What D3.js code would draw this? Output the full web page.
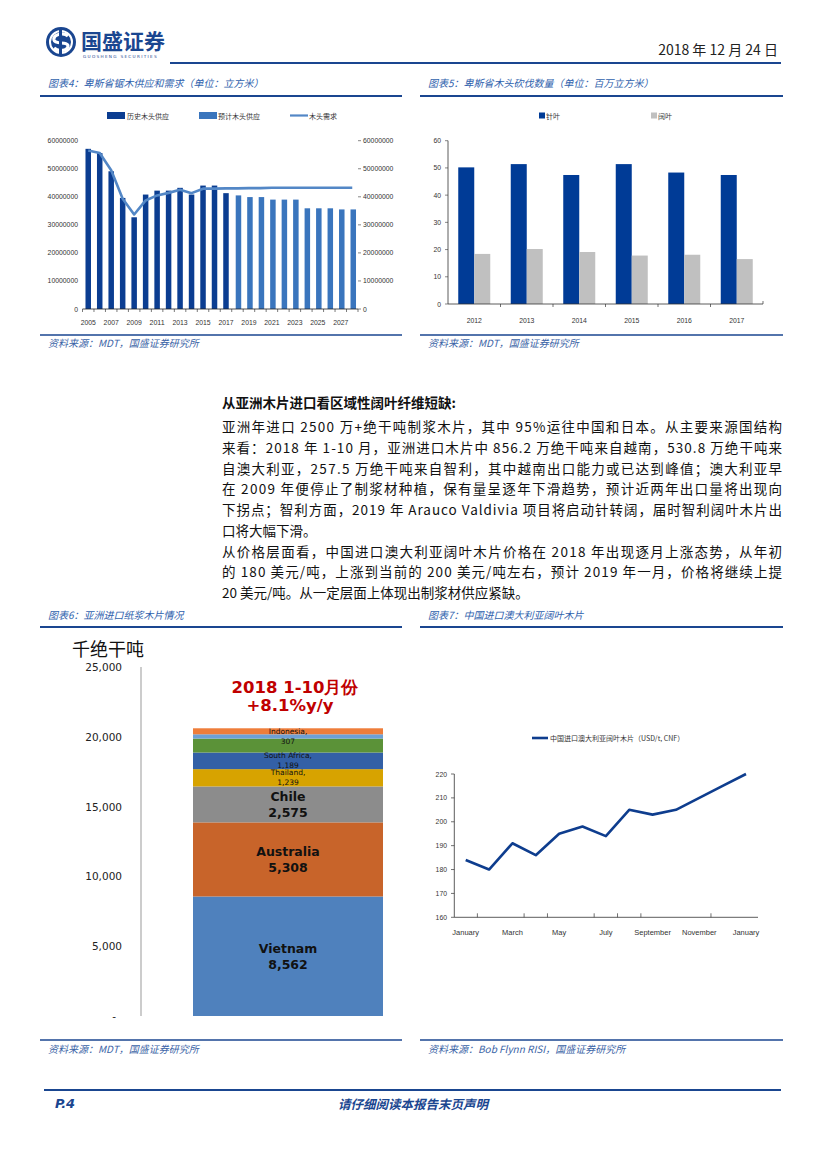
<!DOCTYPE html>
<html>
<head>
<meta charset="utf-8">
<script src="https://cdn.jsdelivr.net/npm/d3@7"></script>
<style>
  html, body { margin: 0; padding: 0; background: #fff; }
  svg { display: block; }
</style>
</head>
<body>
<div id="page"></div>
<script>
// ---- data ----
var supplyYears = d3.range(2005, 2029);
var histSupply = [57100000, 55600000, 49100000, 39600000, 32700000, 40800000, 42200000, 42200000, 43200000, 40800000, 44000000, 44000000, 41300000];
var histYears = d3.range(2005, 2018);
var projSupply = [40500000, 39900000, 39900000, 39000000, 39000000, 39000000, 35900000, 35900000, 35900000, 35500000, 35500000];
var projYears = d3.range(2018, 2029);
var woodDemand = [56500000, 55600000, 49500000, 39300000, 33700000, 38700000, 40500000, 41400000, 42500000, 41300000, 42900000, 42900000,
  43000000, 43000000, 43100000, 43100000, 43200000, 43200000, 43200000, 43200000, 43200000, 43200000, 43200000, 43200000];
var supplyTicks = [0, 10000000, 20000000, 30000000, 40000000, 50000000, 60000000];
var supplyXLabels = [2005, 2007, 2009, 2011, 2013, 2015, 2017, 2019, 2021, 2023, 2025, 2027];

var harvestYears = [2012, 2013, 2014, 2015, 2016, 2017];
var softwood = [50.2, 51.4, 47.4, 51.4, 48.3, 47.4];
var hardwood = [18.4, 20.2, 19.1, 17.8, 18.1, 16.5];
var harvestTicks = [0, 10, 20, 30, 40, 50, 60];

var chipSources = ["Vietnam", "Australia", "Chile", "Thailand", "South Africa", "Others", "Indonesia", "Other2"];
var chipValues = [8562, 5308, 2575, 1239, 1189, 1000, 307, 430];
var chipColors = ["#4f81bd", "#c8642a", "#8c8c8c", "#d7a300", "#3360a6", "#5b9238", "#6ea0d6", "#ee7d3a"];
var chipTicks = [0, 5000, 10000, 15000, 20000, 25000];

var priceMonths = ["January", "February", "March", "April", "May", "June", "July", "August", "September", "October", "November", "December", "January"];
var priceValues = [184, 180, 191, 186, 195, 198, 194, 205, 203, 205, 210, 215, 220];
var priceTicks = [160, 170, 180, 190, 200, 210, 220];
var priceMinorTicks = [0.5, 2.5, 3.5, 5.5, 6.5, 7.5, 10.5];

var bodyLines = [
  "亚洲年进口 2500 万+绝干吨制浆木片，其中 95%运往中国和日本。从主要来源国结构",
  "来看：2018 年 1-10 月，亚洲进口木片中 856.2 万绝干吨来自越南，530.8 万绝干吨来",
  "自澳大利亚，257.5 万绝干吨来自智利，其中越南出口能力或已达到峰值；澳大利亚早",
  "在 2009 年便停止了制浆材种植，保有量呈逐年下滑趋势，预计近两年出口量将出现向",
  "下拐点；智利方面，2019 年 Arauco Valdivia 项目将启动针转阔，届时智利阔叶木片出",
  "口将大幅下滑。",
  "从价格层面看，中国进口澳大利亚阔叶木片价格在 2018 年出现逐月上涨态势，从年初",
  "的 180 美元/吨，上涨到当前的 200 美元/吨左右，预计 2019 年一月，价格将继续上提",
  "20 美元/吨。从一定层面上体现出制浆材供应紧缺。"
];
var bodyJustify = [true, true, true, true, true, false, true, true, false];

// ---- page ----
var W = 827, H = 1169;
var navy = "#1a4690";
var capBlue = "#2f62ad";
var cjk = "'Noto Sans CJK SC', 'DejaVu Sans', sans-serif";
var narrow = "'Liberation Sans Narrow', 'Arial Narrow', 'Liberation Sans', sans-serif";
var verdana = "'DejaVu Sans', Verdana, sans-serif";

var svg = d3.select("#page").append("svg").attr("width", W).attr("height", H);
svg.append("rect").attr("width", W).attr("height", H).attr("fill", "#fff");

// small condensed label helper (the reference uses a narrow face)
function narrowText(g, x, y, txt, anchor, fs) {
  var s = String(txt);
  var el = g.append("text").attr("x", x).attr("y", y).attr("text-anchor", anchor || "start")
    .attr("dominant-baseline", "central").text(s)
    .attr("font-family", narrow).attr("font-size", fs || 8).attr("fill", "#333");
  if (/^\d+$/.test(s)) el.attr("textLength", s.length * 3.8).attr("lengthAdjust", "spacingAndGlyphs");
  return el;
}

// logo
var logo = svg.append("g").attr("transform", "translate(61,42)");
logo.append("circle").attr("r", 15).attr("fill", navy);
logo.append("circle").attr("r", 11).attr("fill", "none").attr("stroke", "#fff").attr("stroke-width", 2);
logo.append("path").attr("d", "M7,-6 C3,-10 -8,-8 -7,-2 C-6,3 7,-1 7,4 C7,9 -3,10 -7,6")
  .attr("fill", "none").attr("stroke", "#fff").attr("stroke-width", 3.2);
logo.append("rect").attr("x", -2).attr("y", -13).attr("width", 3).attr("height", 26).attr("fill", navy);
svg.append("text").attr("x", 81).attr("y", 49).text("国盛证券")
  .attr("font-family", cjk).attr("font-weight", 700).attr("font-size", 21).attr("fill", navy);
svg.append("text").attr("x", 83).attr("y", 58).text("GUOSHENG SECURITIES")
  .attr("font-family", verdana).attr("font-size", 4.2).attr("letter-spacing", 1.3).attr("fill", navy);

svg.append("text").attr("x", 778).attr("y", 55).attr("text-anchor", "end").text("2018 年 12 月 24 日")
  .attr("font-family", cjk).attr("font-size", 14).attr("fill", "#222");
svg.append("line").attr("x1", 170).attr("x2", 781).attr("y1", 63).attr("y2", 63)
  .attr("stroke", navy).attr("stroke-width", 2.2);

function caption(x, y, txt, lx1, lx2, ly) {
  svg.append("text").attr("x", x).attr("y", y).text(txt)
    .attr("font-family", cjk).attr("font-style", "italic").attr("font-size", 10)
    .attr("fill", capBlue).attr("dominant-baseline", "central");
  svg.append("line").attr("x1", lx1).attr("x2", lx2).attr("y1", ly).attr("y2", ly)
    .attr("stroke", navy).attr("stroke-width", 2);
}
function source(x, y, txt, lx1, lx2, ly) {
  svg.append("line").attr("x1", lx1).attr("x2", lx2).attr("y1", ly).attr("y2", ly)
    .attr("stroke", navy).attr("stroke-width", 1.5);
  svg.append("text").attr("x", x).attr("y", y).text(txt)
    .attr("font-family", cjk).attr("font-style", "italic").attr("font-size", 10)
    .attr("fill", "#3b64a6").attr("dominant-baseline", "central");
}

caption(48, 82, "图表4：卑斯省锯木供应和需求（单位：立方米）", 40, 402, 96);
caption(428, 82, "图表5：卑斯省木头砍伐数量（单位：百万立方米）", 420, 783, 96);
source(48, 342, "资料来源：MDT，国盛证券研究所", 40, 402, 335);
source(428, 342, "资料来源：MDT，国盛证券研究所", 420, 783, 335);
caption(48, 614, "图表6：亚洲进口纸浆木片情况", 40, 402, 627);
caption(428, 614, "图表7：中国进口澳大利亚阔叶木片", 420, 783, 627);
source(48, 1048, "资料来源：MDT，国盛证券研究所", 40, 402, 1040);
source(428, 1048, "资料来源：Bob Flynn RISI，国盛证券研究所", 420, 783, 1040);

// footer
svg.append("line").attr("x1", 44).attr("x2", 781).attr("y1", 1090).attr("y2", 1090)
  .attr("stroke", navy).attr("stroke-width", 2.2);
svg.append("text").attr("x", 55).attr("y", 1103).text("P.4").attr("dominant-baseline", "central")
  .attr("font-family", verdana).attr("font-weight", 700).attr("font-style", "italic").attr("font-size", 13).attr("fill", navy);
svg.append("text").attr("x", 413).attr("y", 1103).text("请仔细阅读本报告末页声明").attr("text-anchor", "middle")
  .attr("dominant-baseline", "central")
  .attr("font-family", cjk).attr("font-weight", 700).attr("font-style", "italic").attr("font-size", 12.5).attr("fill", navy);

// body text
svg.append("text").attr("x", 222).attr("y", 402).text("从亚洲木片进口看区域性阔叶纤维短缺:")
  .attr("dominant-baseline", "central")
  .attr("font-family", cjk).attr("font-weight", 700).attr("font-size", 13.5).attr("fill", "#111");
bodyLines.forEach(function (t, i) {
  var el = svg.append("text").attr("x", 222).attr("y", 426 + i * 20.75).text(t)
    .attr("dominant-baseline", "central")
    .attr("font-family", cjk).attr("font-size", 13.5).attr("fill", "#111");
  if (bodyJustify[i]) el.attr("textLength", 560).attr("lengthAdjust", "spacing");
});

// ---- chart 4: supply & demand ----
(function () {
  var g = svg.append("g");
  var x = d3.scaleBand().domain(supplyYears).range([82.5, 358]).padding(0);
  var y = d3.scaleLinear().domain([0, 60000000]).range([309, 140.7]);
  var bw = 5.5;

  supplyTicks.forEach(function (t) {
    narrowText(g, 78, y(t), d3.format("d")(t), "end");
    g.append("line").attr("x1", 358).attr("x2", 361).attr("y1", y(t)).attr("y2", y(t)).attr("stroke", "#888");
    narrowText(g, 363, y(t), d3.format("d")(t), "start");
  });

  g.selectAll(".hist").data(histSupply).enter().append("rect")
    .attr("x", function (d, i) { return x(histYears[i]) + x.bandwidth() / 2 - bw / 2; })
    .attr("y", function (d) { return y(d); })
    .attr("width", bw).attr("height", function (d) { return y(0) - y(d); })
    .attr("fill", "#0b3d91");
  g.selectAll(".proj").data(projSupply).enter().append("rect")
    .attr("x", function (d, i) { return x(projYears[i]) + x.bandwidth() / 2 - bw / 2 + 1; })
    .attr("y", function (d) { return y(d); })
    .attr("width", bw).attr("height", function (d) { return y(0) - y(d); })
    .attr("fill", "#3a75bd");

  g.append("path").datum(woodDemand)
    .attr("d", d3.line().x(function (d, i) { return x(supplyYears[i]) + x.bandwidth() / 2; }).y(function (d) { return y(d); }))
    .attr("fill", "none").attr("stroke", "#5387c6").attr("stroke-width", 2.6).attr("stroke-linejoin", "round");

  g.append("line").attr("x1", 82.5).attr("x2", 358).attr("y1", y(0)).attr("y2", y(0)).attr("stroke", "#222").attr("stroke-width", 0.8);
  supplyYears.concat([2029]).forEach(function (yr, i) {
    var xx = 82.5 + i * x.step();
    g.append("line").attr("x1", xx).attr("x2", xx).attr("y1", y(0)).attr("y2", y(0) + 3).attr("stroke", "#222").attr("stroke-width", 0.6);
  });
  supplyXLabels.forEach(function (yr) {
    narrowText(g, x(yr) + x.bandwidth() / 2, 322, yr, "middle");
  });

  // legend
  var lg = [["历史木头供应", "#0b3d91", 107, 127], ["预计木头供应", "#3a75bd", 199, 218]];
  lg.forEach(function (l) {
    g.append("rect").attr("x", l[2]).attr("y", 112).attr("width", 18).attr("height", 7).attr("fill", l[1]);
    g.append("text").attr("x", l[3]).attr("y", 115.5).attr("dominant-baseline", "central").text(l[0])
      .attr("font-family", cjk).attr("font-size", 7).attr("fill", "#333");
  });
  g.append("line").attr("x1", 290).attr("x2", 308).attr("y1", 115.5).attr("y2", 115.5).attr("stroke", "#5387c6").attr("stroke-width", 2.2);
  g.append("text").attr("x", 309).attr("y", 115.5).attr("dominant-baseline", "central").text("木头需求")
    .attr("font-family", cjk).attr("font-size", 7).attr("fill", "#333");
})();

// ---- chart 5: harvest ----
(function () {
  var g = svg.append("g");
  var x = d3.scaleBand().domain(harvestYears).range([448, 763]);
  var y = d3.scaleLinear().domain([0, 60]).range([304, 140.7]);
  var bw = 16;

  harvestTicks.forEach(function (t) {
    narrowText(g, 441, y(t), t, "end");
    g.append("line").attr("x1", 445).attr("x2", 448).attr("y1", y(t)).attr("y2", y(t)).attr("stroke", "#555").attr("stroke-width", 0.7);
  });
  g.selectAll(".sw").data(softwood).enter().append("rect")
    .attr("x", function (d, i) { return x(harvestYears[i]) + x.bandwidth() / 2 - bw; })
    .attr("y", function (d) { return y(d); }).attr("width", bw)
    .attr("height", function (d) { return y(0) - y(d); }).attr("fill", "#003b96");
  g.selectAll(".hw").data(hardwood).enter().append("rect")
    .attr("x", function (d, i) { return x(harvestYears[i]) + x.bandwidth() / 2; })
    .attr("y", function (d) { return y(d); }).attr("width", bw)
    .attr("height", function (d) { return y(0) - y(d); }).attr("fill", "#c0c0c0");

  g.append("line").attr("x1", 448).attr("x2", 448).attr("y1", y(60)).attr("y2", y(0)).attr("stroke", "#333").attr("stroke-width", 0.8);
  g.append("line").attr("x1", 448).attr("x2", 763).attr("y1", y(0)).attr("y2", y(0)).attr("stroke", "#333").attr("stroke-width", 0.8);
  harvestYears.forEach(function (yr, i) {
    var xx = x(yr) + x.step();
    g.append("line").attr("x1", xx).attr("x2", xx).attr("y1", y(0)).attr("y2", y(0) + (i === harvestYears.length - 1 ? -3 : 3))
      .attr("stroke", "#333").attr("stroke-width", 0.7);
    narrowText(g, x(yr) + x.bandwidth() / 2, 320, yr, "middle");
  });

  g.append("rect").attr("x", 539).attr("y", 112.5).attr("width", 6).attr("height", 6).attr("fill", "#003b96");
  g.append("text").attr("x", 546).attr("y", 115.5).attr("dominant-baseline", "central").text("针叶")
    .attr("font-family", cjk).attr("font-size", 7).attr("fill", "#333");
  g.append("rect").attr("x", 651).attr("y", 112.5).attr("width", 6).attr("height", 6).attr("fill", "#c0c0c0");
  g.append("text").attr("x", 658).attr("y", 115.5).attr("dominant-baseline", "central").text("阔叶")
    .attr("font-family", cjk).attr("font-size", 7).attr("fill", "#333");
})();

// ---- chart 6: Asian pulp chip imports (stacked) ----
(function () {
  var g = svg.append("g");
  var y = d3.scaleLinear().domain([0, 25000]).range([1016, 667]);
  var x0 = 193, x1 = 383;

  g.append("text").attr("x", 72).attr("y", 648).attr("dominant-baseline", "central").text("千绝干吨")
    .attr("font-family", cjk).attr("font-size", 18).attr("fill", "#111");
  chipTicks.forEach(function (t) {
    g.append("text").attr("x", t === 0 ? 116 : 122).attr("y", y(t)).attr("text-anchor", "end").attr("dominant-baseline", "central")
      .text(t === 0 ? "-" : d3.format(",")(t)).attr("font-family", verdana).attr("font-size", 10.5).attr("fill", "#222");
  });
  g.append("line").attr("x1", 141).attr("x2", 141).attr("y1", 667).attr("y2", 1016).attr("stroke", "#999").attr("stroke-width", 1);

  var cum = 0;
  var segs = chipValues.map(function (v, i) {
    var s = { name: chipSources[i], v: v, lo: cum, hi: cum + v, c: chipColors[i] };
    cum += v;
    return s;
  });
  g.selectAll(".seg").data(segs).enter().append("rect")
    .attr("x", x0).attr("width", x1 - x0)
    .attr("y", function (d) { return y(d.hi); })
    .attr("height", function (d) { return y(d.lo) - y(d.hi); })
    .attr("fill", function (d) { return d.c; });

  var cx = (x0 + x1) / 2;
  function lab(i, big) {
    var s = segs[i];
    var cy = y((s.lo + s.hi) / 2);
    var off = big ? 8 : 5;
    [s.name + (big ? "" : ","), d3.format(",")(s.v)].forEach(function (t, k) {
      g.append("text").attr("x", cx).attr("y", cy + (k === 0 ? -off : off)).attr("text-anchor", "middle")
        .attr("dominant-baseline", "central").text(t)
        .attr("font-family", verdana).attr("font-weight", big ? 700 : 400)
        .attr("font-size", big ? 12.5 : 7.5).attr("fill", "#111");
    });
  }
  lab(0, true); lab(1, true); lab(2, true); lab(3, false); lab(4, false); lab(6, false);

  g.append("text").attr("x", 295).attr("y", 687).attr("text-anchor", "middle").attr("dominant-baseline", "central")
    .text("2018 1-10月份").attr("font-family", verdana).attr("font-weight", 700).attr("font-size", 16.5).attr("fill", "#c00000");
  g.append("text").attr("x", 290).attr("y", 705).attr("text-anchor", "middle").attr("dominant-baseline", "central")
    .text("+8.1%y/y").attr("font-family", verdana).attr("font-weight", 700).attr("font-size", 16.5).attr("fill", "#c00000");
})();

// ---- chart 7: price ----
(function () {
  var g = svg.append("g");
  var x = d3.scaleLinear().domain([0, 12]).range([465.7, 746]);
  var y = d3.scaleLinear().domain([160, 220]).range([917.3, 774]);

  priceTicks.forEach(function (t) {
    narrowText(g, 447, y(t), t, "end");
    g.append("line").attr("x1", 451).attr("x2", 454.3).attr("y1", y(t)).attr("y2", y(t)).attr("stroke", "#333").attr("stroke-width", 0.7);
  });
  g.append("line").attr("x1", 454.3).attr("x2", 454.3).attr("y1", y(220)).attr("y2", y(160)).attr("stroke", "#333").attr("stroke-width", 0.8);
  g.append("line").attr("x1", 454.3).attr("x2", 758).attr("y1", y(160)).attr("y2", y(160)).attr("stroke", "#333").attr("stroke-width", 0.8);
  priceMinorTicks.forEach(function (t) {
    g.append("line").attr("x1", x(t)).attr("x2", x(t)).attr("y1", y(160) - 4).attr("y2", y(160)).attr("stroke", "#333").attr("stroke-width", 0.7);
  });
  priceMonths.forEach(function (m, i) {
    if (i % 2) return;
    narrowText(g, x(i), 932, m, "middle", 7.5);
  });
  g.append("path").datum(priceValues)
    .attr("d", d3.line().x(function (d, i) { return x(i); }).y(function (d) { return y(d); }))
    .attr("fill", "none").attr("stroke", "#0e3d8e").attr("stroke-width", 2.6).attr("stroke-linejoin", "round");

  g.append("line").attr("x1", 532).attr("x2", 548).attr("y1", 738).attr("y2", 738).attr("stroke", "#0e3d8e").attr("stroke-width", 2.6);
  g.append("text").attr("x", 550).attr("y", 738).attr("dominant-baseline", "central").text("中国进口澳大利亚阔叶木片（USD/t, CNF）")
    .attr("font-family", cjk).attr("font-size", 7).attr("fill", "#333");
})();
</script>
</body>
</html>
